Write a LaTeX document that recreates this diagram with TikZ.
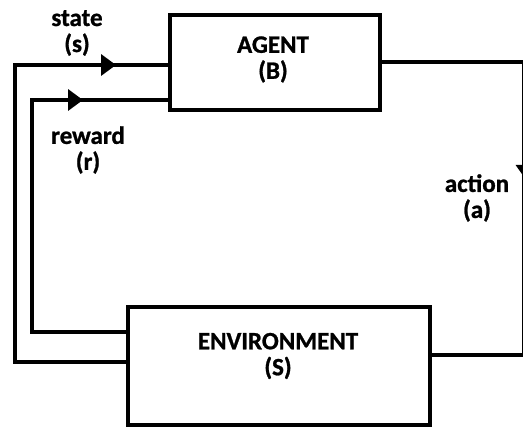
\documentclass[tikz,border=0pt]{standalone}
\usepackage{fontspec}
\setmainfont{Carlito}[BoldFeatures={FakeBold=1}]
\usetikzlibrary{arrows.meta}
\tikzset{
  box/.style={draw, line width=3.5pt, rectangle, inner sep=0pt},
  wire/.style={line width=3.5pt, line join=miter},
  headtip/.style={-{Triangle[length=15pt,width=21pt]}, line width=3.5pt},
  lbl/.style={align=center, inner sep=0pt, font=\fontsize{25}{26}\selectfont\bfseries},
}
\begin{document}
\begin{tikzpicture}[x=1pt,y=-1pt]
\useasboundingbox (0,0) rectangle (523,427);
\node[box, minimum width=210pt, minimum height=95pt] (agent) at (275,62.5) {};
\node[lbl] (agenttext) at (273,59.5) {AGENT\\(B)};
\node[box, minimum width=302pt, minimum height=118pt] (env) at (279,366) {};
\node[lbl] (envtext) at (278,356) {ENVIRONMENT\\(S)};
% state loop
\coordinate (s1) at (15,362);
\coordinate (s2) at (15,65);
\coordinate (stip) at (116,65);
\draw[wire] (env.west |- s1) -- (s1) -- (s2) -- (agent.west |- s2);
\draw[headtip] (s2) -- (stip);
% reward loop
\coordinate (r1) at (32,332);
\coordinate (r2) at (32,100);
\coordinate (rtip) at (83,100);
\draw[wire] (env.west |- r1) -- (r1) -- (r2) -- (agent.west |- r2);
\draw[headtip] (r2) -- (rtip);
% action loop (vertical run lies at the picture's right edge, mostly cut off)
\coordinate (a1) at (524,62);
\coordinate (a2) at (524,355);
\coordinate (atip) at (524,177);
\draw[wire] (agent.east |- a1) -- (a1) -- (a2) -- (env.east |- a2);
\draw[-{Triangle[length=12pt,width=16pt]}, line width=3.5pt] (a1) -- (atip);
% labels
\node[lbl] (lstate) at (77,33) {state\\(s)};
\node[lbl] (lreward) at (88,150) {reward\\(r)};
\node[lbl] (laction) at (477,198) {action\\(a)};
\end{tikzpicture}
\end{document}
